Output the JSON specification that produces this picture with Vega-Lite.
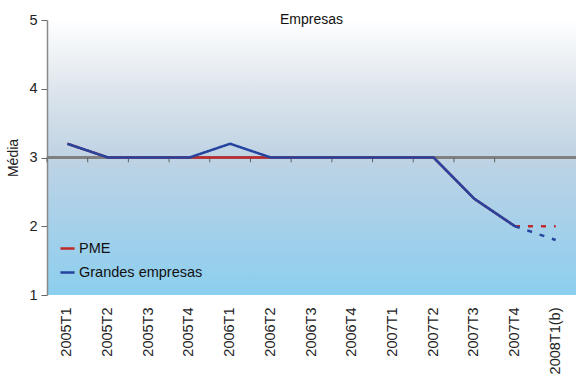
{
  "$schema": "https://vega.github.io/schema/vega-lite/v6.json",
  "width": 529,
  "height": 275,
  "autosize": {"type": "none"},
  "padding": {"left": 47, "top": 20, "right": 0, "bottom": 81},
  "background": "white",
  "title": {"text": "Empresas", "fontSize": 14, "font": "Liberation Sans", "fontWeight": "normal", "color": "#111", "anchor": "middle", "baseline": "alphabetic", "offset": -5, "dy": 21},
  "config": {
    "font": "Liberation Sans",
    "view": {
      "stroke": null,
      "fill": {"gradient": "linear", "x1": 0, "y1": 0, "x2": 0, "y2": 1,
        "stops": [
          {"offset": 0, "color": "#ffffff"},
          {"offset": 0.25, "color": "#dde5ec"},
          {"offset": 0.5, "color": "#bfd3e4"},
          {"offset": 0.75, "color": "#a5d0ea"},
          {"offset": 1, "color": "#8ccfee"}
        ]}
    }
  },
  "data": {"values": [
    {"series": "PME", "period": "2005T1", "value": 3.2, "seg": "solid"},
    {"series": "PME", "period": "2005T2", "value": 3.0, "seg": "solid"},
    {"series": "PME", "period": "2005T3", "value": 3.0, "seg": "solid"},
    {"series": "PME", "period": "2005T4", "value": 3.0, "seg": "solid"},
    {"series": "PME", "period": "2006T1", "value": 3.0, "seg": "solid"},
    {"series": "PME", "period": "2006T2", "value": 3.0, "seg": "solid"},
    {"series": "PME", "period": "2006T3", "value": 3.0, "seg": "solid"},
    {"series": "PME", "period": "2006T4", "value": 3.0, "seg": "solid"},
    {"series": "PME", "period": "2007T1", "value": 3.0, "seg": "solid"},
    {"series": "PME", "period": "2007T2", "value": 3.0, "seg": "solid"},
    {"series": "PME", "period": "2007T3", "value": 2.4, "seg": "solid"},
    {"series": "PME", "period": "2007T4", "value": 2.0, "seg": "solid"},
    {"series": "PME", "period": "2007T4", "value": 2.0, "seg": "dashed"},
    {"series": "PME", "period": "2008T1(b)", "value": 2.0, "seg": "dashed"},
    {"series": "Grandes empresas", "period": "2005T1", "value": 3.2, "seg": "solid"},
    {"series": "Grandes empresas", "period": "2005T2", "value": 3.0, "seg": "solid"},
    {"series": "Grandes empresas", "period": "2005T3", "value": 3.0, "seg": "solid"},
    {"series": "Grandes empresas", "period": "2005T4", "value": 3.0, "seg": "solid"},
    {"series": "Grandes empresas", "period": "2006T1", "value": 3.2, "seg": "solid"},
    {"series": "Grandes empresas", "period": "2006T2", "value": 3.0, "seg": "solid"},
    {"series": "Grandes empresas", "period": "2006T3", "value": 3.0, "seg": "solid"},
    {"series": "Grandes empresas", "period": "2006T4", "value": 3.0, "seg": "solid"},
    {"series": "Grandes empresas", "period": "2007T1", "value": 3.0, "seg": "solid"},
    {"series": "Grandes empresas", "period": "2007T2", "value": 3.0, "seg": "solid"},
    {"series": "Grandes empresas", "period": "2007T3", "value": 2.4, "seg": "solid"},
    {"series": "Grandes empresas", "period": "2007T4", "value": 2.0, "seg": "solid"},
    {"series": "Grandes empresas", "period": "2007T4", "value": 2.0, "seg": "dashed"},
    {"series": "Grandes empresas", "period": "2008T1(b)", "value": 1.8, "seg": "dashed"}
  ]},
  "encoding": {
    "x": {"field": "period", "type": "ordinal", "sort": null, "scale": {"paddingInner": 0, "paddingOuter": 0},
      "axis": {"title": null, "labelAngle": -90, "labelAlign": "right", "labelBaseline": "middle", "labelFontSize": 14.5, "labelColor": "#222", "labelPadding": 12, "domain": false, "ticks": false}},
    "y": {"field": "value", "type": "quantitative", "scale": {"domain": [1, 5], "nice": false, "zero": false},
      "axis": {"title": "Média", "titleFontSize": 14, "titleFontWeight": "normal", "titleColor": "#222", "titlePadding": 8, "format": "d",
        "values": [1, 2, 3, 4, 5], "labelFontSize": 14.5, "labelColor": "#222", "grid": false,
        "domainColor": "#888", "domainWidth": 1.5, "tickColor": "#666", "tickSize": 6, "labelPadding": 4}}
  },
  "layer": [
    {
      "mark": {"type": "rule", "color": "#808080", "strokeWidth": 1.5},
      "encoding": {"x": null, "y": {"datum": 3, "type": "quantitative"}}
    },
    {
      "transform": [{"filter": "datum.series == 'PME' && datum.seg == 'solid'"}],
      "mark": {"type": "rule", "color": "#606060", "strokeWidth": 1},
      "encoding": {
        "x": {"field": "period", "type": "ordinal", "sort": null, "bandPosition": 0},
        "y": {"datum": 3, "type": "quantitative"},
        "y2": {"datum": 2.93}
      }
    },
    {
      "mark": {"type": "line", "strokeWidth": 2.5},
      "encoding": {
        "color": {"field": "series", "type": "nominal",
          "scale": {"domain": ["PME", "Grandes empresas"], "range": ["#be2a2e", "#2444a0"]},
          "legend": {"title": null, "orient": "none", "legendX": 12, "legendY": 220, "symbolType": "stroke", "symbolStrokeWidth": 2.5, "symbolSize": 200, "labelFontSize": 14.5, "labelColor": "#111", "rowPadding": 9, "labelOffset": 3}},
        "strokeDash": {"field": "seg", "type": "nominal", "scale": {"domain": ["solid", "dashed"], "range": [[1, 0], [5, 8]]}, "legend": null},
        "detail": {"field": "seg"},
        "order": {"field": "series", "sort": "descending"}
      }
    }
  ]
}
